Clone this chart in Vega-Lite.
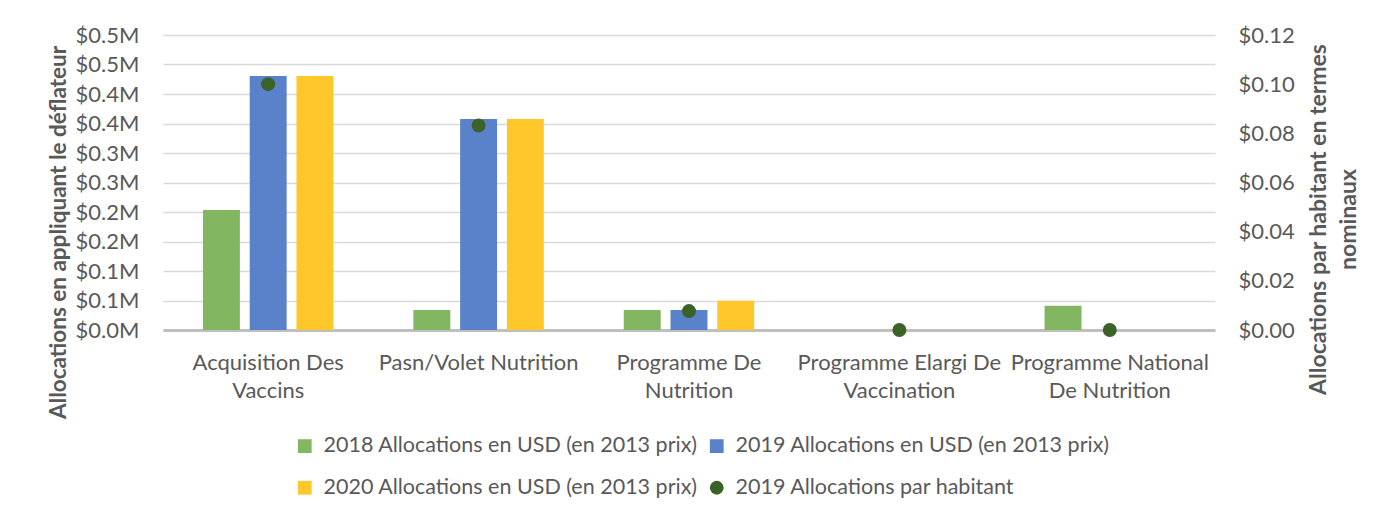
{
  "$schema": "https://vega.github.io/schema/vega-lite/v6.json",
  "width": 1052,
  "height": 295,
  "autosize": {"type": "none"},
  "padding": {"left": 163, "top": 35, "right": 180, "bottom": 191},
  "background": "white",
  "config": {
    "font": "Lato",
    "view": {"stroke": null},
    "axis": {"labelFont": "Lato", "titleFont": "Lato", "labelColor": "#595959", "titleColor": "#595959"}
  },
  "datasets": {
    "bars": [
      {"programme": "Acquisition Des Vaccins", "serie": "2018 Allocations en USD (en 2013 prix)", "allocation": 203400},
      {"programme": "Acquisition Des Vaccins", "serie": "2019 Allocations en USD (en 2013 prix)", "allocation": 430500},
      {"programme": "Acquisition Des Vaccins", "serie": "2020 Allocations en USD (en 2013 prix)", "allocation": 430500},
      {"programme": "Pasn/Volet Nutrition", "serie": "2018 Allocations en USD (en 2013 prix)", "allocation": 33900},
      {"programme": "Pasn/Volet Nutrition", "serie": "2019 Allocations en USD (en 2013 prix)", "allocation": 357600},
      {"programme": "Pasn/Volet Nutrition", "serie": "2020 Allocations en USD (en 2013 prix)", "allocation": 357600},
      {"programme": "Programme De Nutrition", "serie": "2018 Allocations en USD (en 2013 prix)", "allocation": 33900},
      {"programme": "Programme De Nutrition", "serie": "2019 Allocations en USD (en 2013 prix)", "allocation": 33900},
      {"programme": "Programme De Nutrition", "serie": "2020 Allocations en USD (en 2013 prix)", "allocation": 49700},
      {"programme": "Programme National De Nutrition", "serie": "2018 Allocations en USD (en 2013 prix)", "allocation": 41200}
    ],
    "points": [
      {"programme": "Acquisition Des Vaccins", "serie": "2019 Allocations par habitant", "par_habitant": 0.1},
      {"programme": "Pasn/Volet Nutrition", "serie": "2019 Allocations par habitant", "par_habitant": 0.0832},
      {"programme": "Programme De Nutrition", "serie": "2019 Allocations par habitant", "par_habitant": 0.0077},
      {"programme": "Programme Elargi De Vaccination", "serie": "2019 Allocations par habitant", "par_habitant": 0},
      {"programme": "Programme National De Nutrition", "serie": "2019 Allocations par habitant", "par_habitant": 0}
    ]
  },
  "encoding": {
    "x": {
      "field": "programme",
      "type": "nominal",
      "scale": {
        "domain": ["Acquisition Des Vaccins", "Pasn/Volet Nutrition", "Programme De Nutrition", "Programme Elargi De Vaccination", "Programme National De Nutrition"],
        "paddingInner": 0.38,
        "paddingOuter": 0.19
      },
      "axis": {
        "title": null,
        "labelAngle": 0,
        "ticks": false,
        "domainColor": "#bfbfbf",
        "domainWidth": 3,
        "labelFontSize": 22,
        "labelPadding": 22,
        "labelLineHeight": 28,
        "labelLimit": 400,
        "labelBaseline": "top",
        "labelExpr": "datum.label == 'Acquisition Des Vaccins' ? ['Acquisition Des', 'Vaccins'] : datum.label == 'Programme De Nutrition' ? ['Programme De', 'Nutrition'] : datum.label == 'Programme Elargi De Vaccination' ? ['Programme Elargi De', 'Vaccination'] : datum.label == 'Programme National De Nutrition' ? ['Programme National', 'De Nutrition'] : datum.label"
      }
    }
  },
  "layer": [
    {
      "data": {"name": "bars"},
      "mark": {"type": "bar"},
      "encoding": {
        "xOffset": {"field": "serie", "type": "nominal", "scale": {"domain": ["2018 Allocations en USD (en 2013 prix)", "2019 Allocations en USD (en 2013 prix)", "2020 Allocations en USD (en 2013 prix)"], "paddingInner": 0.21, "paddingOuter": 0}},
        "y": {
          "field": "allocation",
          "type": "quantitative",
          "scale": {"domain": [0, 500000], "nice": false},
          "axis": {
            "title": "Allocations en appliquant le déflateur",
            "titleFontSize": 22.5,
            "titleFontWeight": "bold",
            "titlePadding": 5,
            "titleY": 197,
            "values": [0, 50000, 100000, 150000, 200000, 250000, 300000, 350000, 400000, 450000, 500000],
            "labelExpr": "'$' + format(round(datum.value / 100000) / 10, '.1f') + 'M'",
            "labelFontSize": 22,
            "labelPadding": 24,
            "labelOverlap": false,
            "labelBound": false,
            "ticks": false,
            "domain": false,
            "gridColor": "#d9d9d9",
            "gridWidth": 1.3
          }
        },
        "color": {
          "field": "serie",
          "type": "nominal",
          "scale": {
            "domain": ["2018 Allocations en USD (en 2013 prix)", "2019 Allocations en USD (en 2013 prix)", "2020 Allocations en USD (en 2013 prix)", "2019 Allocations par habitant"],
            "range": ["#82b661", "#5a82cb", "#ffc72a", "#3b6327"]
          },
          "legend": {
            "title": null,
            "orient": "none",
            "legendX": 131,
            "legendY": 400,
            "direction": "horizontal",
            "columns": 2,
            "columnPadding": 8,
            "rowPadding": 19,
            "labelFontSize": 21.5,
            "labelColor": "#595959",
            "labelFont": "Lato",
            "labelLimit": 600,
            "labelOffset": 8,
            "symbolSize": 190,
            "symbolStrokeWidth": 0
          }
        }
      }
    },
    {
      "data": {"name": "points"},
      "mark": {"type": "point", "filled": true, "size": 195, "opacity": 1},
      "encoding": {
        "y": {
          "field": "par_habitant",
          "type": "quantitative",
          "scale": {"domain": [0, 0.12], "nice": false},
          "axis": {
            "orient": "right",
            "title": ["Allocations par habitant en termes", "nominaux"],
            "titleFontSize": 23,
            "titleFontWeight": "bold",
            "titleAngle": 270,
            "titleBaseline": "top",
            "titleLineHeight": 30,
            "titleX": 92,
            "titleY": 184,
            "tickCount": 6,
            "format": "$.2f",
            "labelFontSize": 22,
            "labelPadding": 23,
            "ticks": false,
            "domain": false,
            "grid": false
          }
        },
        "color": {"field": "serie", "type": "nominal"},
        "shape": {
          "field": "serie",
          "type": "nominal",
          "scale": {
            "domain": ["2018 Allocations en USD (en 2013 prix)", "2019 Allocations en USD (en 2013 prix)", "2020 Allocations en USD (en 2013 prix)", "2019 Allocations par habitant"],
            "range": ["square", "square", "square", "circle"]
          }
        }
      }
    }
  ],
  "resolve": {"scale": {"y": "independent"}}
}
